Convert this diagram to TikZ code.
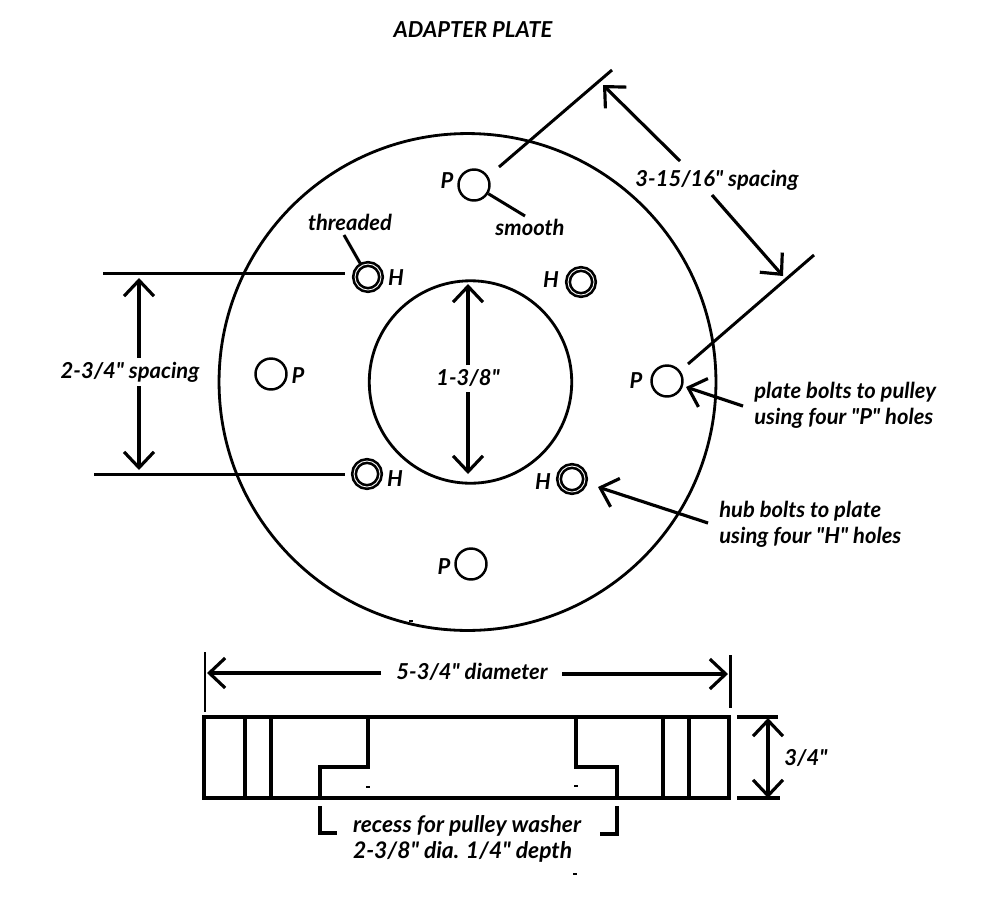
\documentclass[tikz,border=0pt]{standalone}
\usepackage{fontspec}
\setmainfont{Lato}[Ligatures=TeXOff]
\usetikzlibrary{arrows.meta}
\begin{document}
\begin{tikzpicture}[x=0.02cm, y=-0.02cm]
	\tikzset{plhole/.style={circle, draw, line width=1.4pt, fill=white,
				minimum size=0.62cm, inner sep=0pt}}
	\tikzset{hbhole/.style={circle, draw, line width=1.5pt, double=white, double distance=0.5pt,
				minimum size=0.52cm, inner sep=0pt}}
	\tikzset{plline/.style={line width=1.7pt}}
	\tikzset{secline/.style={line width=2pt}}
	\tikzset{plarrow/.style={line width=1.8pt, -{Straight Barb[length=9pt, width=17pt, line width=1.8pt]}}}
	\tikzset{pltext/.style={inner sep=0pt, font=\fontsize{12.5}{15}\selectfont\bfseries\itshape}}
	\tikzset{pldot/.style={fill=black, inner sep=0pt, minimum width=2pt, minimum height=1pt}}

	\useasboundingbox (0,0) rectangle (1000,900);

	\node[pltext] (title) at (473,30) {ADAPTER PLATE};

	\node[circle, draw, line width=1.6pt, minimum size=9.94cm, inner sep=0pt] (outer) at (467.5,382) {};
	\node[circle, draw, line width=1.6pt, minimum size=4.05cm, inner sep=0pt] (inner) at (470.5,382) {};

	\node[plhole] (p1) at (474,185) {};
	\node[plhole] (p2) at (667,381) {};
	\node[plhole] (p3) at (271,374) {};
	\node[plhole] (p4) at (471,564) {};
	\node[hbhole] (h1) at (368,277) {};
	\node[hbhole] (h2) at (581,282) {};
	\node[hbhole] (h3) at (367,474) {};
	\node[hbhole] (h4) at (572,479) {};

	\node[pltext] (lp1) at (447,181) {P};
	\node[pltext] (lp2) at (636,381) {P};
	\node[pltext] (lp3) at (298,376) {P};
	\node[pltext] (lp4) at (444,567) {P};
	\node[pltext] (lh1) at (396,278) {H};
	\node[pltext] (lh2) at (551,280) {H};
	\node[pltext] (lh3) at (395,479) {H};
	\node[pltext] (lh4) at (543,482) {H};

	\node[pltext] (threaded) at (350,222) {threaded};
	\node[pltext] (smooth) at (530,227) {smooth};
	\coordinate (r1) at (344,235);
	\coordinate (r2) at (525,216);
	\draw[plline] (r1) -- (h1);
	\draw[plline] (p1) -- (r2);

	% top dimension
	\coordinate (t1) at (499,167);
	\coordinate (t2) at (612,70);
	\coordinate (t3) at (688,364);
	\coordinate (t4) at (814,255);
	\coordinate (t5) at (680,161);
	\coordinate (t6) at (603,85);
	\coordinate (t7) at (712,195);
	\coordinate (t8) at (783,276);
	\draw[plline] (t1) -- (t2);
	\draw[plline] (t3) -- (t4);
	\draw[plarrow] (t5) -- (t6);
	\draw[plarrow] (t7) -- (t8);
	\node[pltext] (spacetop) at (717,180) {3-15/16" spacing};

	% left dimension
	\coordinate (l1) at (103,273);
	\coordinate (l2) at (345,273);
	\coordinate (l3) at (94,474);
	\coordinate (l4) at (345,474);
	\coordinate (l5) at (139,372);
	\coordinate (l6) at (139,278);
	\coordinate (l7) at (139,470);
	\draw[plline] (l1) -- (l2);
	\draw[plline] (l3) -- (l4);
	\draw[plarrow] (l5) -- (l6);
	\draw[plarrow] (l5) -- (l7);
	\node[pltext, fill=white, inner sep=2pt] (spaceleft) at (130,372) {2-3/4" spacing};

	% center dimension
	\coordinate (c1) at (468,365);
	\coordinate (c2) at (468,284);
	\coordinate (c3) at (468,392);
	\coordinate (c4) at (468,474);
	\draw[plarrow] (c1) -- (c2);
	\draw[plarrow] (c3) -- (c4);
	\node[pltext] (bore) at (468,378) {1-3/8"};

	% callouts
	\node[pltext, align=left, anchor=west] (plate) at (754,405) {plate bolts to pulley\\using four "P" holes};
	\node[pltext, align=left, anchor=west] (hub) at (719,524) {hub bolts to plate\\using four "H" holes};
	\coordinate (a1) at (743,406);
	\coordinate (a2) at (686,387);
	\coordinate (a3) at (708,523);
	\coordinate (a4) at (598,487);
	\draw[plarrow] (a1) -- (a2);
	\draw[plarrow] (a3) -- (a4);

	% side view
	\coordinate (s1) at (204,717);
	\coordinate (s2) at (729,717);
	\coordinate (s3) at (729,798);
	\coordinate (s4) at (204,798);
	\draw[secline] (s1) -- (s2) -- (s3) -- (s4) -- cycle;
	\foreach \xa in {245,271,663,689}
		\draw[secline] (\xa,717) -- (\xa,798);
	\draw[secline] (368,717) -- (368,767) -- (320,767) -- (320,798);
	\draw[secline] (576,717) -- (576,767) -- (617,767) -- (617,798);

	% diameter
	\coordinate (d1) at (205,652);
	\coordinate (d2) at (205,712);
	\coordinate (d3) at (730,655);
	\coordinate (d4) at (730,708);
	\coordinate (d5) at (381,673);
	\coordinate (d6) at (207,673);
	\coordinate (d7) at (562,674);
	\coordinate (d8) at (728,674);
	\draw[plline] (d1) -- (d2);
	\draw[plline] (d3) -- (d4);
	\draw[plarrow] (d5) -- (d6);
	\draw[plarrow] (d7) -- (d8);
	\node[pltext] (diam) at (472,672) {5-3/4" diameter};

	% thickness
	\coordinate (e1) at (737,717);
	\coordinate (e2) at (778,717);
	\coordinate (e3) at (737,798);
	\coordinate (e4) at (780,798);
	\coordinate (e5) at (768,757);
	\coordinate (e6) at (768,718);
	\coordinate (e7) at (768,798);
	\draw[secline] (e1) -- (e2);
	\draw[secline] (e3) -- (e4);
	\draw[plarrow] (e5) -- (e6);
	\draw[plarrow] (e5) -- (e7);
	\node[pltext] (thick) at (806,758) {3/4"};

	% recess
	\coordinate (b1) at (320,806);
	\coordinate (b2) at (320,833);
	\coordinate (b3) at (337,833);
	\coordinate (b4) at (617,806);
	\coordinate (b5) at (617,834);
	\coordinate (b6) at (600,834);
	\draw[secline] (b1) -- (b2) -- (b3);
	\draw[secline] (b4) -- (b5) -- (b6);
	\node[pltext, align=left, font=\fontsize{13}{15}\selectfont\bfseries\itshape] (recess) at (467,839) {recess for pulley washer\\2-3/8" dia. 1/4" depth};

	\node[pldot] (m1) at (411,621) {};
	\node[pldot] (m2) at (368,787) {};
	\node[pldot] (m3) at (576,786) {};
	\node[pldot] (m4) at (575,874) {};
\end{tikzpicture}
\end{document}
